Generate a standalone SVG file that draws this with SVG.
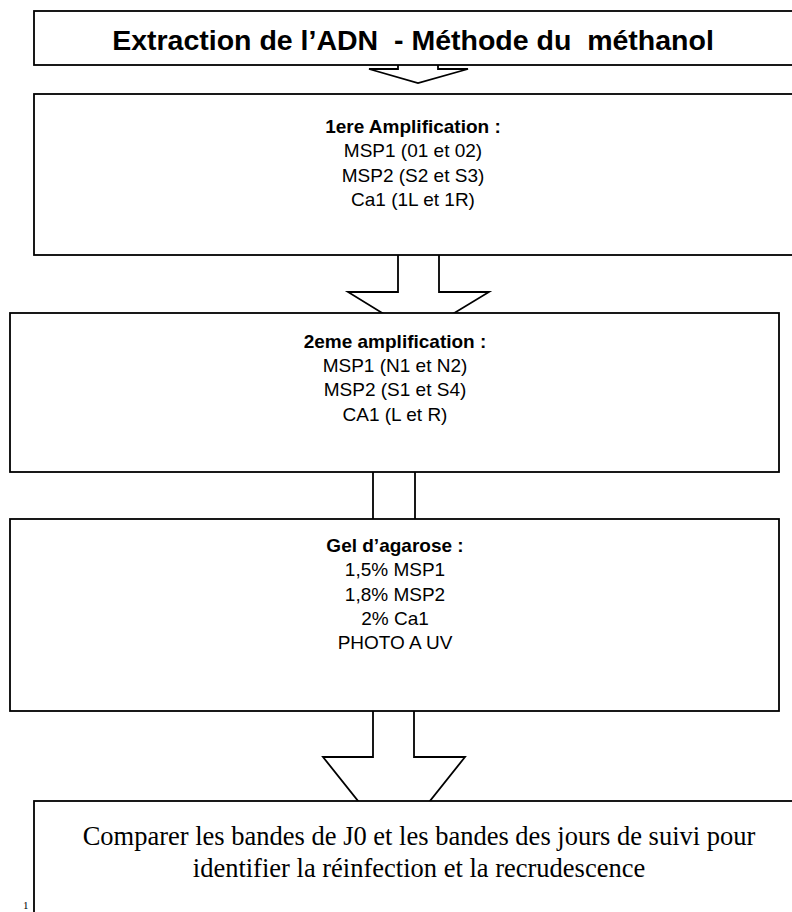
<svg xmlns="http://www.w3.org/2000/svg" width="792" height="912" viewBox="0 0 792 912">
<style>
.box{fill:#fff;stroke:#000;stroke-width:1.8}
.arr{fill:#fff;stroke:#000;stroke-width:1.8;stroke-linejoin:miter}
.t{font-family:"Liberation Sans",Arial,sans-serif;font-size:19px;text-anchor:middle;fill:#000}
.b{font-weight:bold}
.s{font-family:"Liberation Serif","Times New Roman",serif;font-size:26.5px;text-anchor:middle;fill:#000}
</style>
<rect width="792" height="912" fill="#fff"/>
<g id="connectors">
<polygon class="arr" points="398,30 438,30 438,69 468,69 418,83 369,69 398,69"/>
<polygon class="arr" points="398,240 439,240 439,292 489,292 418,335 348,292 398,292"/>
<polygon class="arr" points="373,460 415,460 415,540 373,540"/>
<polygon class="arr" points="373,700 414,700 414,757 465,757 394,846 323,757 373,757"/>
</g>
<g id="n1">
<rect class="box" x="34" y="11" width="770" height="54"/>
<text class="t b" x="413" y="50" style="font-size:28.5px" xml:space="preserve">Extraction de l’ADN  - Méthode du  méthanol</text>
</g>
<g id="n2">
<rect class="box" x="34" y="94" width="770" height="161"/>
<text class="t b" x="413" y="133">1ere Amplification :</text>
<text class="t" x="413" y="157">MSP1 (01 et 02)</text>
<text class="t" x="413" y="182">MSP2 (S2 et S3)</text>
<text class="t" x="413" y="206">Ca1 (1L et 1R)</text>
</g>
<g id="n3">
<rect class="box" x="10" y="313" width="769" height="159"/>
<text class="t b" x="395" y="348">2eme amplification :</text>
<text class="t" x="395" y="372">MSP1 (N1 et N2)</text>
<text class="t" x="395" y="396">MSP2 (S1 et S4)</text>
<text class="t" x="395" y="421">CA1 (L et R)</text>
</g>
<g id="n4">
<rect class="box" x="10" y="519" width="769" height="192"/>
<text class="t b" x="395" y="552">Gel d’agarose :</text>
<text class="t" x="395" y="576">1,5% MSP1</text>
<text class="t" x="395" y="601">1,8% MSP2</text>
<text class="t" x="395" y="625">2% Ca1</text>
<text class="t" x="395" y="649">PHOTO A UV</text>
</g>
<g id="n5">
<rect class="box" x="34" y="801" width="770" height="130"/>
<text class="s" x="419" y="845">Comparer les bandes de J0 et les bandes des jours de suivi pour</text>
<text class="s" x="419" y="877">identifier la réinfection et la recrudescence</text>
</g>
<text x="23" y="909" fill="#000" style="font-family:'Liberation Serif',serif;font-size:11px">1</text>
</svg>
